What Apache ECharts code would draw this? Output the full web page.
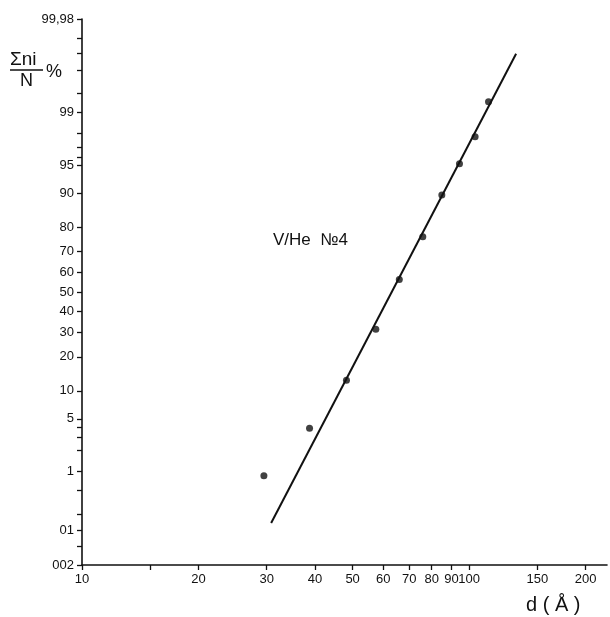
<!DOCTYPE html>
<html>
<head>
<meta charset="utf-8">
<script src="https://cdn.jsdelivr.net/npm/echarts@6/dist/echarts.min.js"></script>
<style>
html,body{margin:0;padding:0;background:#fff;}
#chart{width:610px;height:617px;}
</style>
</head>
<body>
<div id="chart"></div>
<script>
// ---- data ----
const diameters = [29.5, 38.7, 48.2, 57.4, 66.0, 75.9, 85.0, 94.4, 103.6, 112.2];
const cumPercent = [0.86, 3.86, 12.6, 31.4, 56.5, 76.3, 89.6, 95.2, 97.8, 99.32];
const fitD = [30.8, 132.2];
const fitPercent = [0.137, 99.90];
const yTickPercents = [0.02, 0.1, 1, 5, 10, 20, 30, 40, 50, 60, 70, 80, 90, 95, 99, 99.98];
const yTickLabels = ['002', '01', '1', '5', '10', '20', '30', '40', '50', '60', '70', '80', '90', '95', '99', '99,98'];
const yMinorPercents = [0.05, 0.2, 0.5, 2, 3, 4, 96, 97, 98, 99.5, 99.8, 99.9, 99.95];
const xTickValues = [10, 20, 30, 40, 50, 60, 70, 80, 90, 100, 150, 200];
const xMinorValues = [15];
const xRange = [10, 227];
const yRangePercent = [0.02, 99.98];

// inverse standard normal CDF (Acklam)
function probit(p) {
  const a = [-3.969683028665376e+01, 2.209460984245205e+02, -2.759285104469687e+02, 1.383577518672690e+02, -3.066479806614716e+01, 2.506628277459239e+00];
  const b = [-5.447609879822406e+01, 1.615858368580409e+02, -1.556989798598866e+02, 6.680131188771972e+01, -1.328068155288572e+01];
  const c = [-7.784894002430293e-03, -3.223964580411365e-01, -2.400758277161838e+00, -2.549732539343734e+00, 4.374664141464968e+00, 2.938163982698783e+00];
  const d = [7.784695709041462e-03, 3.224671290700398e-01, 2.445134137142996e+00, 3.754408661907416e+00];
  const pl = 0.02425, ph = 1 - pl;
  let q, r;
  if (p < pl) {
    q = Math.sqrt(-2 * Math.log(p));
    return (((((c[0]*q+c[1])*q+c[2])*q+c[3])*q+c[4])*q+c[5]) / ((((d[0]*q+d[1])*q+d[2])*q+d[3])*q+1);
  } else if (p <= ph) {
    q = p - 0.5; r = q * q;
    return (((((a[0]*r+a[1])*r+a[2])*r+a[3])*r+a[4])*r+a[5])*q / (((((b[0]*r+b[1])*r+b[2])*r+b[3])*r+b[4])*r+1);
  } else {
    q = Math.sqrt(-2 * Math.log(1 - p));
    return -(((((c[0]*q+c[1])*q+c[2])*q+c[3])*q+c[4])*q+c[5]) / ((((d[0]*q+d[1])*q+d[2])*q+d[3])*q+1);
  }
}
const P = v => probit(v / 100);

const yMajor = yTickPercents.map(P);
const yMinor = yMinorPercents.map(P);
const yMin = P(yRangePercent[0]) - 1e-9;
const yMax = P(yRangePercent[1]) + 1e-9;

const FONT = 'Liberation Sans';
const chart = echarts.init(document.getElementById('chart'), null, {renderer: 'canvas'});
chart.setOption({
  animation: false,
  backgroundColor: '#fff',
  grid: {left: 82, right: 3, top: 19, bottom: 52, containLabel: false, outerBoundsMode: 'none'},
  xAxis: {
    type: 'log', logBase: 10, min: xRange[0], max: xRange[1],
    axisLine: {show: true, onZero: false, lineStyle: {color: '#111', width: 1.6}},
    axisTick: {show: true, inside: false, length: 5, lineStyle: {color: '#111', width: 1.3},
      customValues: xTickValues.concat(xMinorValues)},
    axisLabel: {customValues: xTickValues, color: '#111', fontFamily: FONT, fontSize: 13, margin: 8,
      formatter: v => String(Math.round(v))},
    splitLine: {show: false}, minorTick: {show: false}
  },
  yAxis: {
    type: 'value', min: yMin, max: yMax,
    axisLine: {show: true, onZero: false, lineStyle: {color: '#111', width: 1.6}},
    axisTick: {show: true, inside: false, length: 5, lineStyle: {color: '#111', width: 1.3},
      customValues: yMajor.concat(yMinor)},
    axisLabel: {customValues: yMajor, color: '#111', fontFamily: FONT, fontSize: 13, margin: 8,
      formatter: v => {
        let best = 0, bd = Infinity;
        yMajor.forEach((m, i) => { const dd = Math.abs(m - v); if (dd < bd) { bd = dd; best = i; } });
        return yTickLabels[best];
      }},
    splitLine: {show: false}
  },
  series: [
    {
      type: 'line', data: fitD.map((d, i) => [d, P(fitPercent[i])]),
      showSymbol: false, lineStyle: {color: '#111', width: 2}, silent: true
    },
    {
      type: 'scatter', data: diameters.map((d, i) => [d, P(cumPercent[i])]),
      symbol: 'circle', symbolSize: 7, itemStyle: {color: '#111'}
    }
  ],
  graphic: [
    {type: 'text', left: 10, top: 50, style: {text: 'Σni', font: '19px ' + FONT, fill: '#111'}},
    {type: 'line', shape: {x1: 10, y1: 70, x2: 43, y2: 70}, style: {stroke: '#111', lineWidth: 1.5}},
    {type: 'text', left: 20, top: 72, style: {text: 'N', font: '18px ' + FONT, fill: '#111'}},
    {type: 'text', left: 46, top: 63, style: {text: '%', font: '18px ' + FONT, fill: '#111'}},
    {type: 'text', left: 273, top: 232, style: {text: 'V/He  №4', font: '17px ' + FONT, fill: '#111'}},
    {type: 'text', left: 526, top: 595, style: {text: 'd ( Å )', font: '20px ' + FONT, fill: '#111'}}
  ]
});
</script>
</body>
</html>
